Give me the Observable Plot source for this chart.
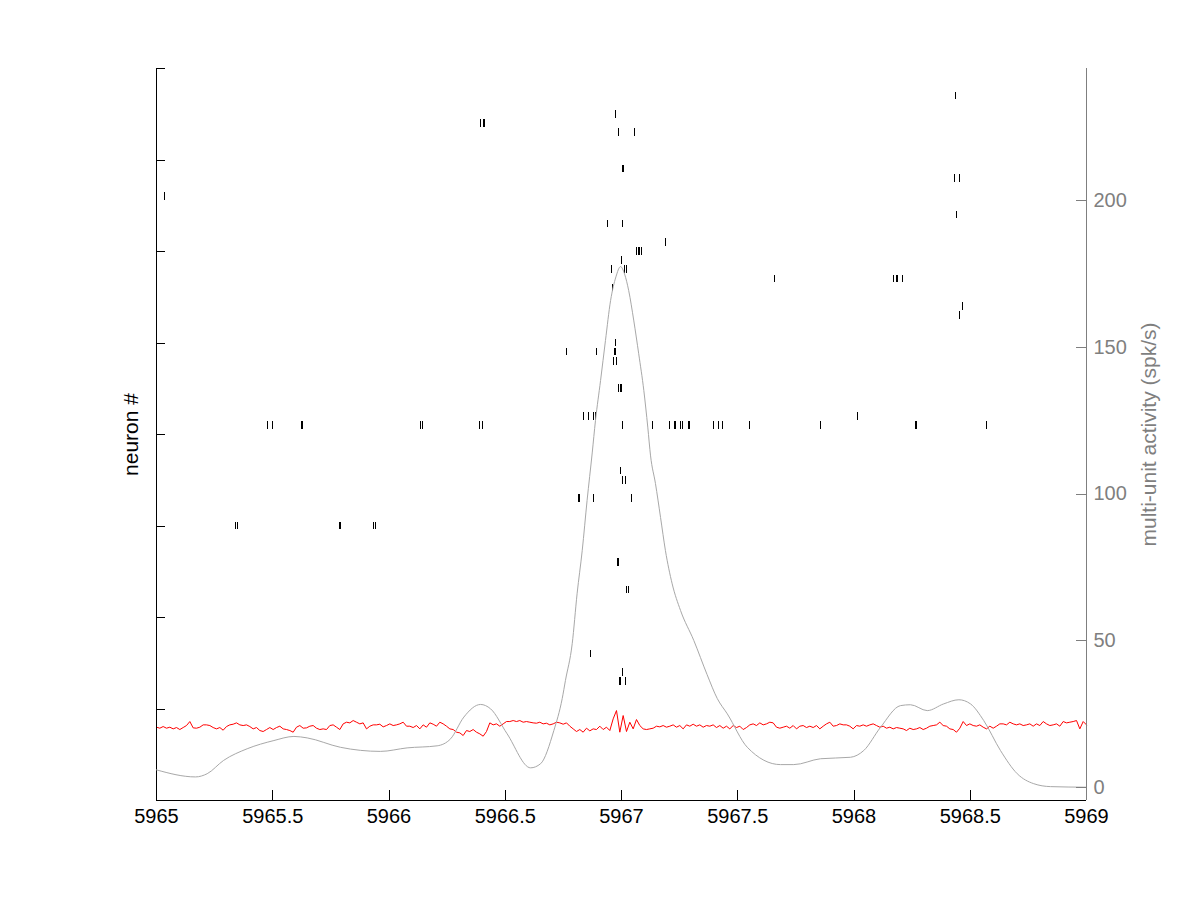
<!DOCTYPE html>
<html>
<head>
<meta charset="utf-8">
<script src="https://cdn.jsdelivr.net/npm/d3@7"></script>
<script src="https://cdn.jsdelivr.net/npm/@observablehq/plot@0.6"></script>
<style>
  body { margin: 0; background: #fff; }
  #chart { position: relative; width: 1200px; height: 900px; }
  #chart svg { position: absolute; left: 0; top: 0; }
</style>
</head>
<body>
<div id="chart"></div>
<script>
// x ticks (seconds) and axis ticks
const xTicks = [5965, 5965.5, 5966, 5966.5, 5967, 5967.5, 5968, 5968.5, 5969]
const neuronTicks = [0, 10, 20, 30, 40, 50, 60, 70, 80]
const muaTicks = [0, 50, 100, 150, 200]

// raster: neuron ids and the spike times of each
const neuronIds = [77, 75, 74, 73, 69, 68, 66, 64, 63, 61, 60, 59, 58, 57, 56, 54, 53, 50, 49, 48, 45, 42, 41, 36, 35, 33, 30, 26, 23, 16, 14, 13]
const spikeTrains = [
  [5968.438],
  [5966.975],
  [5966.395, 5966.405, 5966.411],
  [5966.989, 5967.058],
  [5967.005, 5967.009],
  [5968.432, 5968.455],
  [5965.034],
  [5968.442],
  [5966.941, 5967.006],
  [5967.189],
  [5967.065, 5967.071, 5967.077, 5967.084],
  [5967.001],
  [5966.958, 5967.013, 5967.022],
  [5967.660, 5968.171, 5968.181, 5968.189, 5968.209],
  [5966.961],
  [5968.468],
  [5968.455],
  [5966.975],
  [5966.765, 5966.894, 5966.972, 5966.976],
  [5966.966, 5966.979],
  [5966.985, 5966.994, 5967.002],
  [5966.837, 5966.859, 5966.880, 5966.890, 5968.016],
  [5965.476, 5965.497, 5965.622, 5965.628, 5966.135, 5966.143, 5966.391, 5966.401,
   5967.006, 5967.135, 5967.208, 5967.229, 5967.233, 5967.254, 5967.261, 5967.287,
   5967.293, 5967.397, 5967.416, 5967.434, 5967.552, 5967.854, 5967.858, 5968.266,
   5968.270, 5968.568, 5968.572],
  [5966.996],
  [5967.006, 5967.017],
  [5966.817, 5966.821, 5966.881, 5967.045],
  [5965.338, 5965.347, 5965.786, 5965.790, 5965.935, 5965.943],
  [5966.981, 5966.985],
  [5967.022, 5967.032],
  [5966.868],
  [5967.006],
  [5966.991, 5966.995, 5967.019]
]

// multi-unit activity (spk/s)
const muaTime = [5965.0, 5965.168, 5965.218, 5965.288, 5965.390, 5965.505, 5965.591, 5965.648, 5965.791, 5965.963,
  5966.078, 5966.207, 5966.265, 5966.322, 5966.394, 5966.437, 5966.508, 5966.609, 5966.652, 5966.709,
  5966.745, 5966.759, 5966.788, 5966.809, 5966.831, 5966.852, 5966.874, 5966.888, 5966.910, 5966.931,
  5966.953, 5966.976, 5966.996, 5967.013, 5967.031, 5967.053, 5967.074, 5967.096, 5967.113, 5967.125,
  5967.146, 5967.168, 5967.189, 5967.218, 5967.254, 5967.311, 5967.368, 5967.412, 5967.455, 5967.541,
  5967.684, 5967.741, 5967.856, 5967.985, 5968.042, 5968.114, 5968.200, 5968.243, 5968.315, 5968.386,
  5968.451, 5968.501, 5968.558, 5968.630, 5968.702, 5968.773, 5968.845, 5968.996]
const muaRate = [6.0, 3.6, 4.7, 9.2, 13.2, 16.0, 17.4, 16.9, 13.7, 12.3,
  13.5, 14.2, 16.6, 24.0, 28.3, 26.8, 18.3, 6.7, 8.1, 19.4,
  30.3, 36.5, 49, 66, 80.7, 97.8, 114, 125, 138.7, 152.3,
  165.9, 174, 177.5, 175, 169.3, 159, 147.8, 135.3, 122.8, 113,
  103.6, 92, 80.7, 69.4, 60.3, 50.1, 38.5, 30.3, 25.1, 13.7,
  7.8, 7.8, 9.8, 10.3, 12.6, 20.5, 27.9, 28.2, 26.2, 28.5,
  29.9, 28.5, 22.8, 12.6, 4.7, 1.3, 0.3, 0.1]

// red trace (arbitrary units), three stretches sampled every lfpStep s
const lfpStarts = [5965, 5966.3333, 5967.6667]
const lfpStep = 0.014337
const lfpA = [-3,-6,-1,-6,-3,-8,-4,-10,-4,2, 14,-5,-6,-3,4,4,2,-4,-8,-4, -12,-1,4,6,10,4,2,4,-1,-8,
  -4,-13,-16,-10,-4,-10,-4,0,-8,-10, -13,-18,-3,2,-6,-5,0,2,-6,-10, -8,-10,2,4,-3,-10,7,12,10,17,
  12,7,10,-8,0,4,4,6,-2,2, 7,2,4,7,12,0,0,-4,2,-8, 4,-3,10,6,0,12,7,0,-8,-10, -18,-20,-28]
const lfpB = [-13,-16,-10,-18,-23,-30,-16,10,4,7, 0,7,14,14,17,14,17,12,14,12, 10,9,12,7,9,4,7,12,10,6,
  10,0,-8,-16,-10,-18,-6,-14,-8,-10, 0,-10,-3,-13,22,47,-18,32,-16,12, -8,20,2,-8,-10,-8,-6,0,-2,2,
  -3,0,4,-3,2,-8,4,0,6,0, 4,-3,2,0,4,-4,2,-6,0,-8, 2,-4,0,-10,-4,4,7,2,10,4, 7,12,10]
const lfpC = [-3,-6,-3,0,-6,2,-8,0,2,-4, 0,-4,2,-8,0,7,12,0,2,7, 4,4,0,-8,2,0,4,0,4,7,
  2,-3,0,-6,-3,-8,-4,-6,-8,-13, -6,-10,-8,-4,-10,-6,0,2,4,12, 2,0,-8,-10,-18,-6,14,2,7,2,
  0,4,-3,-8,0,-6,0,7,7,4, 12,7,4,7,2,4,7,0,7,2, 14,7,2,4,7,0,14,10,12,14, 17,-8,14,4]
const lfpBase = 8.12     // position of the trace on the neuron axis
const lfpGain = 0.0364   // neuron rows per unit

const spikes = neuronIds.flatMap((n, i) => spikeTrains[i].map(t => ({t, n})))
const mua = muaTime.map((t, i) => ({t, v: muaRate[i]}))
const lfp = [lfpA, lfpB, lfpC].flatMap((seg, k) =>
  seg.map((v, i) => ({t: lfpStarts[k] + i * lfpStep, v})))

const grey = "#7f7f7f"
const font = "'Liberation Sans', Arial, Helvetica, sans-serif"
const size = {width: 1200, height: 900, marginLeft: 156, marginRight: 114, marginTop: 68, marginBottom: 100}

// raster + red trace on the left (neuron) axis
let raster = Plot.plot({
  ...size,
  style: {fontFamily: font, background: "white", color: "black"},
  x: {domain: [5965, 5969]},
  y: {domain: [0, 80], axis: null},
  marks: [
    Plot.line(lfp, {x: "t", y: d => lfpBase + d.v * lfpGain, stroke: "red", strokeWidth: 1}),
    Plot.ruleX(spikes, {x: "t", y1: d => d.n - 0.42, y2: d => d.n + 0.42, stroke: "black", strokeWidth: 1, shapeRendering: "crispEdges"}),
    Plot.ruleX(xTicks, {insetTop: 722, stroke: "black", shapeRendering: "crispEdges"}),
    Plot.ruleY(neuronTicks, {insetRight: 921, stroke: "black", shapeRendering: "crispEdges"}),
    Plot.ruleX([5965], {stroke: "black", shapeRendering: "crispEdges"}),
    Plot.ruleY([0], {stroke: "black", shapeRendering: "crispEdges"}),
    Plot.axisX({ticks: xTicks, tickSize: 0, tickPadding: 8, tickFormat: d => String(d), fontSize: 20, label: null}),
    Plot.text(["neuron #"], {frameAnchor: "left", dx: -19, rotate: -90, textAnchor: "middle", lineAnchor: "bottom", fontSize: 21})
  ]
})

// multi-unit activity on the right axis, drawn on top
let activity = Plot.plot({
  ...size,
  style: {fontFamily: font, background: "transparent", color: grey},
  x: {domain: [5965, 5969], axis: null},
  y: {domain: [-4.43, 245], axis: null},
  marks: [
    Plot.line(mua, {x: "t", y: "v", stroke: "#a8a8a8", strokeWidth: 1, curve: "monotone-x"}),
    Plot.ruleX([5969], {stroke: grey, shapeRendering: "crispEdges"}),
    Plot.ruleY(muaTicks, {insetLeft: 920, stroke: grey, shapeRendering: "crispEdges"}),
    Plot.axisY({anchor: "right", ticks: muaTicks, tickSize: 0, tickPadding: 7, fontSize: 20, label: null}),
    Plot.text(["multi-unit activity (spk/s)"], {frameAnchor: "right", dx: 69, rotate: -90, textAnchor: "middle", lineAnchor: "bottom", fontSize: 21, fill: grey})
  ]
})

d3.select('#chart').append(() => raster)
d3.select('#chart').append(() => activity)
</script>
</body>
</html>
